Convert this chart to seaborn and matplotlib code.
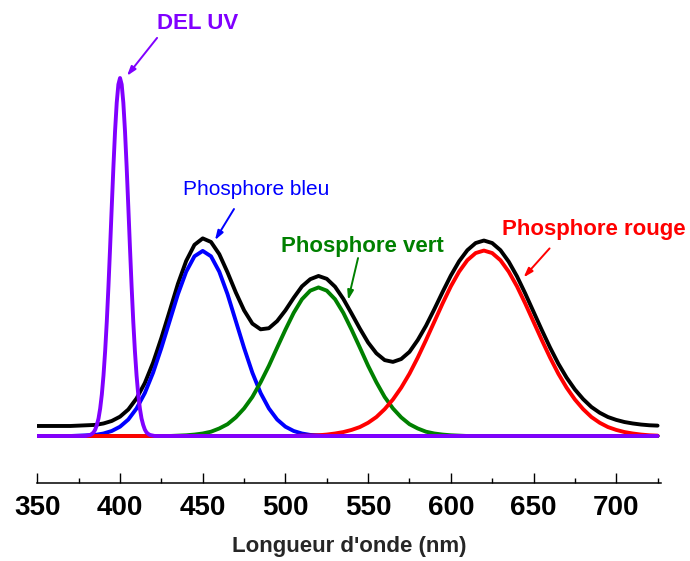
import numpy as np
import matplotlib
matplotlib.use("Agg")
import matplotlib.pyplot as plt
from matplotlib.ticker import MultipleLocator
import seaborn as sns

# === Data (UV peak = 1) ===
wavelength = np.arange(350, 726, 5)

blue_phosphor = [
    0, 0, 0, 0, 0, 0.001, 0.002, 0.003, 0.007, 0.014,
    0.026, 0.046, 0.077, 0.120, 0.177, 0.246, 0.321, 0.396, 0.459, 0.502,
    0.517, 0.502, 0.459, 0.396, 0.321, 0.246, 0.177, 0.120, 0.077, 0.046,
    0.026, 0.014, 0.007, 0.003, 0.002, 0.001, 0, 0, 0, 0,
    0, 0, 0, 0, 0, 0, 0, 0, 0, 0,
    0, 0, 0, 0, 0, 0, 0, 0, 0, 0,
    0, 0, 0, 0, 0, 0, 0, 0, 0, 0,
    0, 0, 0, 0, 0, 0]

green_phosphor = [
    0, 0, 0, 0, 0, 0, 0, 0, 0, 0,
    0, 0, 0, 0, 0, 0, 0, 0.001, 0.002, 0.004,
    0.007, 0.012, 0.021, 0.033, 0.052, 0.077, 0.109, 0.150, 0.196, 0.247,
    0.297, 0.344, 0.382, 0.406, 0.415, 0.406, 0.382, 0.344, 0.297, 0.247,
    0.196, 0.150, 0.109, 0.077, 0.052, 0.033, 0.021, 0.012, 0.007, 0.004,
    0.002, 0.001, 0, 0, 0, 0, 0, 0, 0, 0,
    0, 0, 0, 0, 0, 0, 0, 0, 0, 0,
    0, 0, 0, 0, 0, 0]

red_phosphor = [
    0, 0, 0, 0, 0, 0, 0, 0, 0, 0,
    0, 0, 0, 0, 0, 0, 0, 0, 0, 0,
    0, 0, 0, 0, 0, 0, 0, 0, 0, 0,
    0, 0, 0.001, 0.001, 0.002, 0.004, 0.007, 0.011, 0.017, 0.025,
    0.037, 0.053, 0.075, 0.102, 0.135, 0.174, 0.219, 0.268, 0.319, 0.370,
    0.418, 0.459, 0.491, 0.511, 0.518, 0.511, 0.491, 0.459, 0.418, 0.370,
    0.319, 0.268, 0.219, 0.174, 0.135, 0.102, 0.075, 0.053, 0.037, 0.025,
    0.017, 0.011, 0.007, 0.004, 0.002, 0.001]

white_total = [
    0.028, 0.028, 0.028, 0.028, 0.028, 0.029, 0.030, 0.031, 0.035, 0.042,
    0.054, 0.074, 0.105, 0.148, 0.205, 0.274, 0.349, 0.425, 0.489, 0.534,
    0.552, 0.542, 0.508, 0.457, 0.401, 0.351, 0.314, 0.298, 0.301, 0.321,
    0.351, 0.386, 0.418, 0.438, 0.447, 0.439, 0.417, 0.383, 0.342, 0.300,
    0.261, 0.231, 0.212, 0.207, 0.215, 0.235, 0.268, 0.308, 0.354, 0.402,
    0.448, 0.488, 0.519, 0.539, 0.546, 0.539, 0.519, 0.487, 0.446, 0.398,
    0.347, 0.296, 0.247, 0.202, 0.163, 0.130, 0.103, 0.081, 0.065, 0.053,
    0.045, 0.039, 0.035, 0.032, 0.030, 0.029]

uv_wavelength = [350] + list(range(379, 422)) + [725]
uv_led = [
    0, 0, 0.001, 0.002, 0.003, 0.006, 0.010, 0.018, 0.031, 0.049, 0.077,
    0.116, 0.169, 0.237, 0.320, 0.418, 0.527, 0.641, 0.752, 0.852, 0.931,
    0.982, 1.000, 0.982, 0.931, 0.852, 0.752, 0.641, 0.527, 0.418, 0.320,
    0.237, 0.169, 0.116, 0.077, 0.049, 0.031, 0.018, 0.010, 0.006, 0.003,
    0.002, 0.001, 0, 0]

x_ticks = [350, 400, 450, 500, 550, 600, 650, 700]

# === Style ===
sns.set_style("ticks")
plt.rcParams["font.family"] = ["Liberation Sans", "DejaVu Sans"]

fig = plt.figure(figsize=(6.9, 5.61), dpi=100)
ax = fig.add_axes([0.0541, 0.1396, 0.9037, 0.849])

lw = 2.8
sns.lineplot(x=wavelength, y=white_total, color="black", lw=lw, ax=ax, zorder=2)
sns.lineplot(x=wavelength, y=blue_phosphor, color="#0000FF", lw=lw, ax=ax, zorder=3)
sns.lineplot(x=wavelength, y=green_phosphor, color="#008000", lw=lw, ax=ax, zorder=3)
sns.lineplot(x=wavelength, y=red_phosphor, color="#FF0000", lw=lw, ax=ax, zorder=3)
sns.lineplot(x=uv_wavelength, y=uv_led, color="#8000FF", lw=lw, ax=ax, zorder=4)

ax.set_xlim(350, 727)
ax.set_ylim(-0.1304, 1.2)

# === Axes ===
for side in ["left", "right", "top"]:
    ax.spines[side].set_visible(False)
ax.spines["bottom"].set_linewidth(1.1)
ax.spines["bottom"].set_color("black")
ax.set_yticks([])
ax.set_xticks(x_ticks)
ax.xaxis.set_minor_locator(MultipleLocator(25))
ax.tick_params(axis="x", which="major", bottom=True, direction="in", length=7.2,
               width=1.0, pad=8.7, colors="black", labelsize=20)
ax.tick_params(axis="x", which="minor", bottom=True, direction="in", length=3.8,
               width=1.0, colors="black")
for lab in ax.get_xticklabels():
    lab.set_fontweight("bold")
ax.set_xlabel("Longueur d'onde (nm)", fontweight="bold", fontsize=16, labelpad=11)
ax.set_ylabel("")

# === Labels + arrows ===
def label(text, xy_text, tail, head, color, bold=True, size=16):
    ax.text(xy_text[0], xy_text[1], text, color=color, ha="center", va="baseline",
            fontsize=size, fontweight="bold" if bold else "normal")
    ax.annotate("", xy=head, xytext=tail,
                arrowprops=dict(arrowstyle="-|>,head_length=0.55,head_width=0.18",
                                color=color, lw=1.4, shrinkA=0, shrinkB=0))

label("DEL UV", (447.2, 1.136), (422.4, 1.112), (404.2, 1.006), "#8000FF")
label("Phosphore bleu", (482.1, 0.673), (468.9, 0.634), (457.4, 0.547), "#0000FF",
      bold=False, size=15)
label("Phosphore vert", (546.6, 0.515), (543.9, 0.497), (537.9, 0.380), "#008000")
label("Phosphore rouge", (686.2, 0.561), (659.7, 0.524), (644.0, 0.443), "#FF0000")

plt.savefig("out.png", dpi=100)
plt.close()
